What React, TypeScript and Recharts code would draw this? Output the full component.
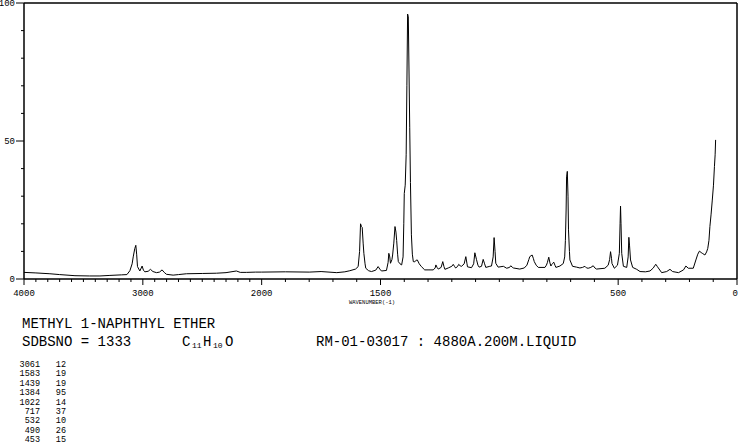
import { LineChart, Line, XAxis, YAxis, ReferenceLine } from 'recharts'

// Raman spectrum, methyl 1-naphthyl ether
const wavenumbers = [
  4000, 3900, 3782, 3700, 3571, 3450, 3361, 3277, 3180, 3134, 3109, 3090, 3081, 3068, 3059, 3052, 3045, 3025,
  3006, 2995, 2983, 2955, 2936, 2915, 2885, 2860, 2838, 2820, 2801, 2745, 2700, 2633, 2500, 2381, 2300, 2213,
  2180, 2129, 2050, 2000, 1900, 1800, 1750, 1684, 1650, 1629, 1605, 1594, 1588, 1584, 1580, 1577, 1573, 1570,
  1565, 1562, 1550, 1538, 1520, 1510, 1503, 1496, 1475, 1468, 1465, 1461, 1458, 1452, 1449, 1444, 1439, 1435,
  1432, 1428, 1425, 1418, 1411, 1405, 1402, 1400, 1396, 1392, 1389, 1386, 1383, 1380, 1377, 1374, 1370, 1366,
  1362, 1356, 1350, 1345, 1337, 1328, 1314, 1300, 1278, 1270, 1267, 1262, 1257, 1245, 1238, 1233, 1229, 1215,
  1200, 1194, 1188, 1184, 1176, 1171, 1165, 1159, 1148, 1141, 1136, 1134, 1117, 1108, 1103, 1096, 1090, 1085,
  1075, 1068, 1062, 1057, 1040, 1033, 1026, 1022, 1018, 1015, 1005, 983, 969, 957, 952, 946, 941, 914, 895, 884,
  876, 872, 862, 857, 853, 845, 836, 808, 802, 798, 792, 787, 783, 779, 776, 771, 766, 762, 745, 731, 725, 722,
  719, 717, 714, 711, 709, 705, 703, 692, 675, 661, 650, 640, 633, 626, 615, 605, 598, 591, 556, 542, 536, 532,
  528, 526, 516, 503, 495, 492, 490, 488, 485, 478, 464, 458, 455, 452, 448, 439, 422, 408, 385, 366, 352, 345,
  341, 336, 331, 317, 296, 282, 271, 246, 225, 215, 205, 184, 173, 165, 158, 151, 144, 135, 128, 123, 118, 114,
  109, 104, 99, 95, 92, 90,
]
const intensities = [
  2.4, 2.2, 1.9, 1.6, 1.2, 1.1, 1.1, 1.3, 1.5, 1.6, 3.0, 5.5, 8, 11, 12.2, 9, 4.5, 2.9,
  4.7, 3.2, 2.6, 2.8, 3.5, 2.7, 2.3, 2.5, 3.3, 2.4, 1.7, 1.4, 1.6, 1.9, 2.0, 2.1, 2.3, 2.9,
  2.4, 2.4, 2.5, 2.5, 2.6, 2.5, 2.7, 2.3, 2.6, 3.0, 3.6, 4.5, 10, 20, 19, 18.7, 13, 9.3,
  5.5, 3.9, 3.0, 2.7, 3.2, 4.5, 3.6, 2.9, 3.1, 6, 9.3, 8, 5.7, 7, 8.7, 13, 19, 17,
  14, 9, 6.3, 5.5, 5.1, 8, 20, 31, 34, 45, 70, 96, 95, 75, 55, 35, 16, 9,
  6.3, 6.2, 6.8, 6.9, 5.5, 4.5, 3.3, 3.3, 3.3, 4, 5.1, 4.2, 3.6, 4.2, 6.3, 4.5, 3.5, 4.0,
  4.6, 5.3, 4.5, 4.0, 4.5, 5.3, 4.8, 4.6, 5.5, 8.1, 5.5, 4.4, 4.1, 5.5, 9.5, 7, 5.0, 4.3,
  4.6, 7.1, 5.5, 4.2, 4.6, 4.7, 8, 15, 10, 5.7, 4.3, 4.6, 3.9, 4.2, 4.8, 4.3, 4.0, 3.6, 4.0, 5.0,
  7, 8.1, 8.7, 7.5, 6.3, 5, 4.2, 4.2, 5.0, 5.9, 7.9, 5.8, 4.7, 5.3, 5.6, 6.1, 5, 4.2, 4.7, 5.6, 8, 14,
  25, 37, 39, 30, 17.8, 10, 6.9, 4.6, 4.3, 4.0, 4.2, 4.6, 4.0, 3.9, 4.2, 4.8, 4.0, 3.6, 3.9, 5.0, 7, 9.9,
  7.5, 5.6, 3.9, 5.0, 9.3, 20, 26.4, 20, 9.3, 4.6, 4.2, 8, 15.1, 12, 6.9, 4.2, 3.5, 2.7, 2.6, 2.9, 4.0, 5,
  5.3, 4.6, 4.0, 2.3, 2.7, 3.5, 2.7, 2.3, 3.3, 4.7, 3.9, 3.9, 6.9, 9, 10.1, 9.6, 9.2, 8.7, 9.8, 11.1, 14, 19,
  23.5, 28.6, 34, 40.7, 45, 50.4,
]

const peakWavenumbers = ['3061', '1583', '1439', '1384', '1022', '717', '532', '490', '453']
const peakIntensities = ['12', '19', '19', '95', '14', '37', '10', '26', '15']

const labeledX = [4000, 3000, 2000, 1500, 500, 0]
const minorX = Array.from({ length: 41 }, (_, i) => 4000 - i * 100)
const yTicks = [0, 10, 20, 30, 40, 50, 60, 70, 80, 90, 100]
const labeledY = [0, 50, 100]

// above 2000 cm-1 the axis is compressed by half
const toAxis = (w: number) => (w <= 2000 ? w : 2000 + (w - 2000) / 2)
const fromAxis = (t: number) => Math.round(t <= 2000 ? t : 2000 + (t - 2000) * 2)

const data = wavenumbers.map((w, i) => ({ t: toAxis(w), v: intensities[i] }))

const MONO = '"Liberation Mono", "DejaVu Sans Mono", monospace'

const XTick = (props: any) => {
  const { x, y, payload } = props
  const w = fromAxis(payload.value)
  const major = labeledX.includes(w)
  return (
    <g>
      <line x1={x} x2={x} y1={y} y2={y + (major ? 6 : 3)} stroke="#000" strokeWidth={1} />
      {major && (
        <text
          x={w === 0 ? x + 1 : x}
          y={y + 17}
          textAnchor={w === 0 ? 'end' : 'middle'}
          fontSize={9}
          fontFamily={MONO}
          fill="#000"
        >
          {w}
        </text>
      )}
    </g>
  )
}

const YTick = (props: any) => {
  const { x, y, payload } = props
  const major = labeledY.includes(payload.value)
  return (
    <g>
      <line x1={x} x2={x - (major ? 8 : 3)} y1={y} y2={y} stroke="#000" strokeWidth={1} />
      {major && (
        <text x={x - 9} y={y + 3} textAnchor="end" fontSize={9} fontFamily={MONO} fill="#000">
          {payload.value}
        </text>
      )}
    </g>
  )
}

export default function App() {
  return (
    <div style={{ position: 'absolute', left: 0, top: 0, width: 738, height: 447, background: '#fff' }}>
      <LineChart width={738} height={310} data={data} margin={{ top: 3, right: 1, left: 0, bottom: 0 }}>
        <XAxis
          type="number"
          dataKey="t"
          domain={[0, 3000]}
          reversed
          ticks={minorX.map(toAxis)}
          interval={0}
          tickSize={0}
          tickMargin={0}
          tickLine={false}
          tick={<XTick />}
          height={31}
          axisLine={{ stroke: '#000', strokeWidth: 1.5 }}
        />
        <YAxis
          type="number"
          domain={[0, 100]}
          ticks={yTicks}
          interval={0}
          tickSize={0}
          tickMargin={0}
          tickLine={false}
          tick={<YTick />}
          width={24}
          axisLine={{ stroke: '#000', strokeWidth: 1.5 }}
        />
        <ReferenceLine y={100} stroke="#000" strokeWidth={1.5} />
        <ReferenceLine x={0} stroke="#000" strokeWidth={1.5} />
        <Line type="linear" dataKey="v" stroke="#000" strokeWidth={1} dot={false} isAnimationActive={false} />
      </LineChart>
      <svg width={738} height={447} style={{ position: 'absolute', left: 0, top: 0, pointerEvents: 'none' }}>
        <text x={372} y={304} textAnchor="middle" fontSize={5.5} fontFamily={MONO} fill="#000">
          WAVENUMBER(-1)
        </text>
        <text x={22} y={328} fontSize={14} fontFamily={MONO} fill="#000">
          METHYL 1-NAPHTHYL ETHER
        </text>
        <text x={22} y={346} fontSize={14} fontFamily={MONO} fill="#000">
          SDBSNO = 1333
        </text>
        <text x={182} y={346} fontSize={14} fontFamily={MONO} fill="#000">C</text>
        <text x={192} y={348} fontSize={8} fontFamily={MONO} fill="#000">11</text>
        <text x={203} y={346} fontSize={14} fontFamily={MONO} fill="#000">H</text>
        <text x={213} y={348} fontSize={8} fontFamily={MONO} fill="#000">10</text>
        <text x={225} y={346} fontSize={14} fontFamily={MONO} fill="#000">O</text>
        <text x={316} y={346} fontSize={14} fontFamily={MONO} fill="#000">
          RM-01-03017 : 4880A.200M.LIQUID
        </text>
        {peakWavenumbers.map((w, i) => (
          <g key={w}>
            <text x={40} y={367 + i * 9.4} textAnchor="end" fontSize={8.5} fontFamily={MONO} fill="#000">
              {w}
            </text>
            <text x={66} y={367 + i * 9.4} textAnchor="end" fontSize={8.5} fontFamily={MONO} fill="#000">
              {peakIntensities[i]}
            </text>
          </g>
        ))}
      </svg>
    </div>
  )
}
